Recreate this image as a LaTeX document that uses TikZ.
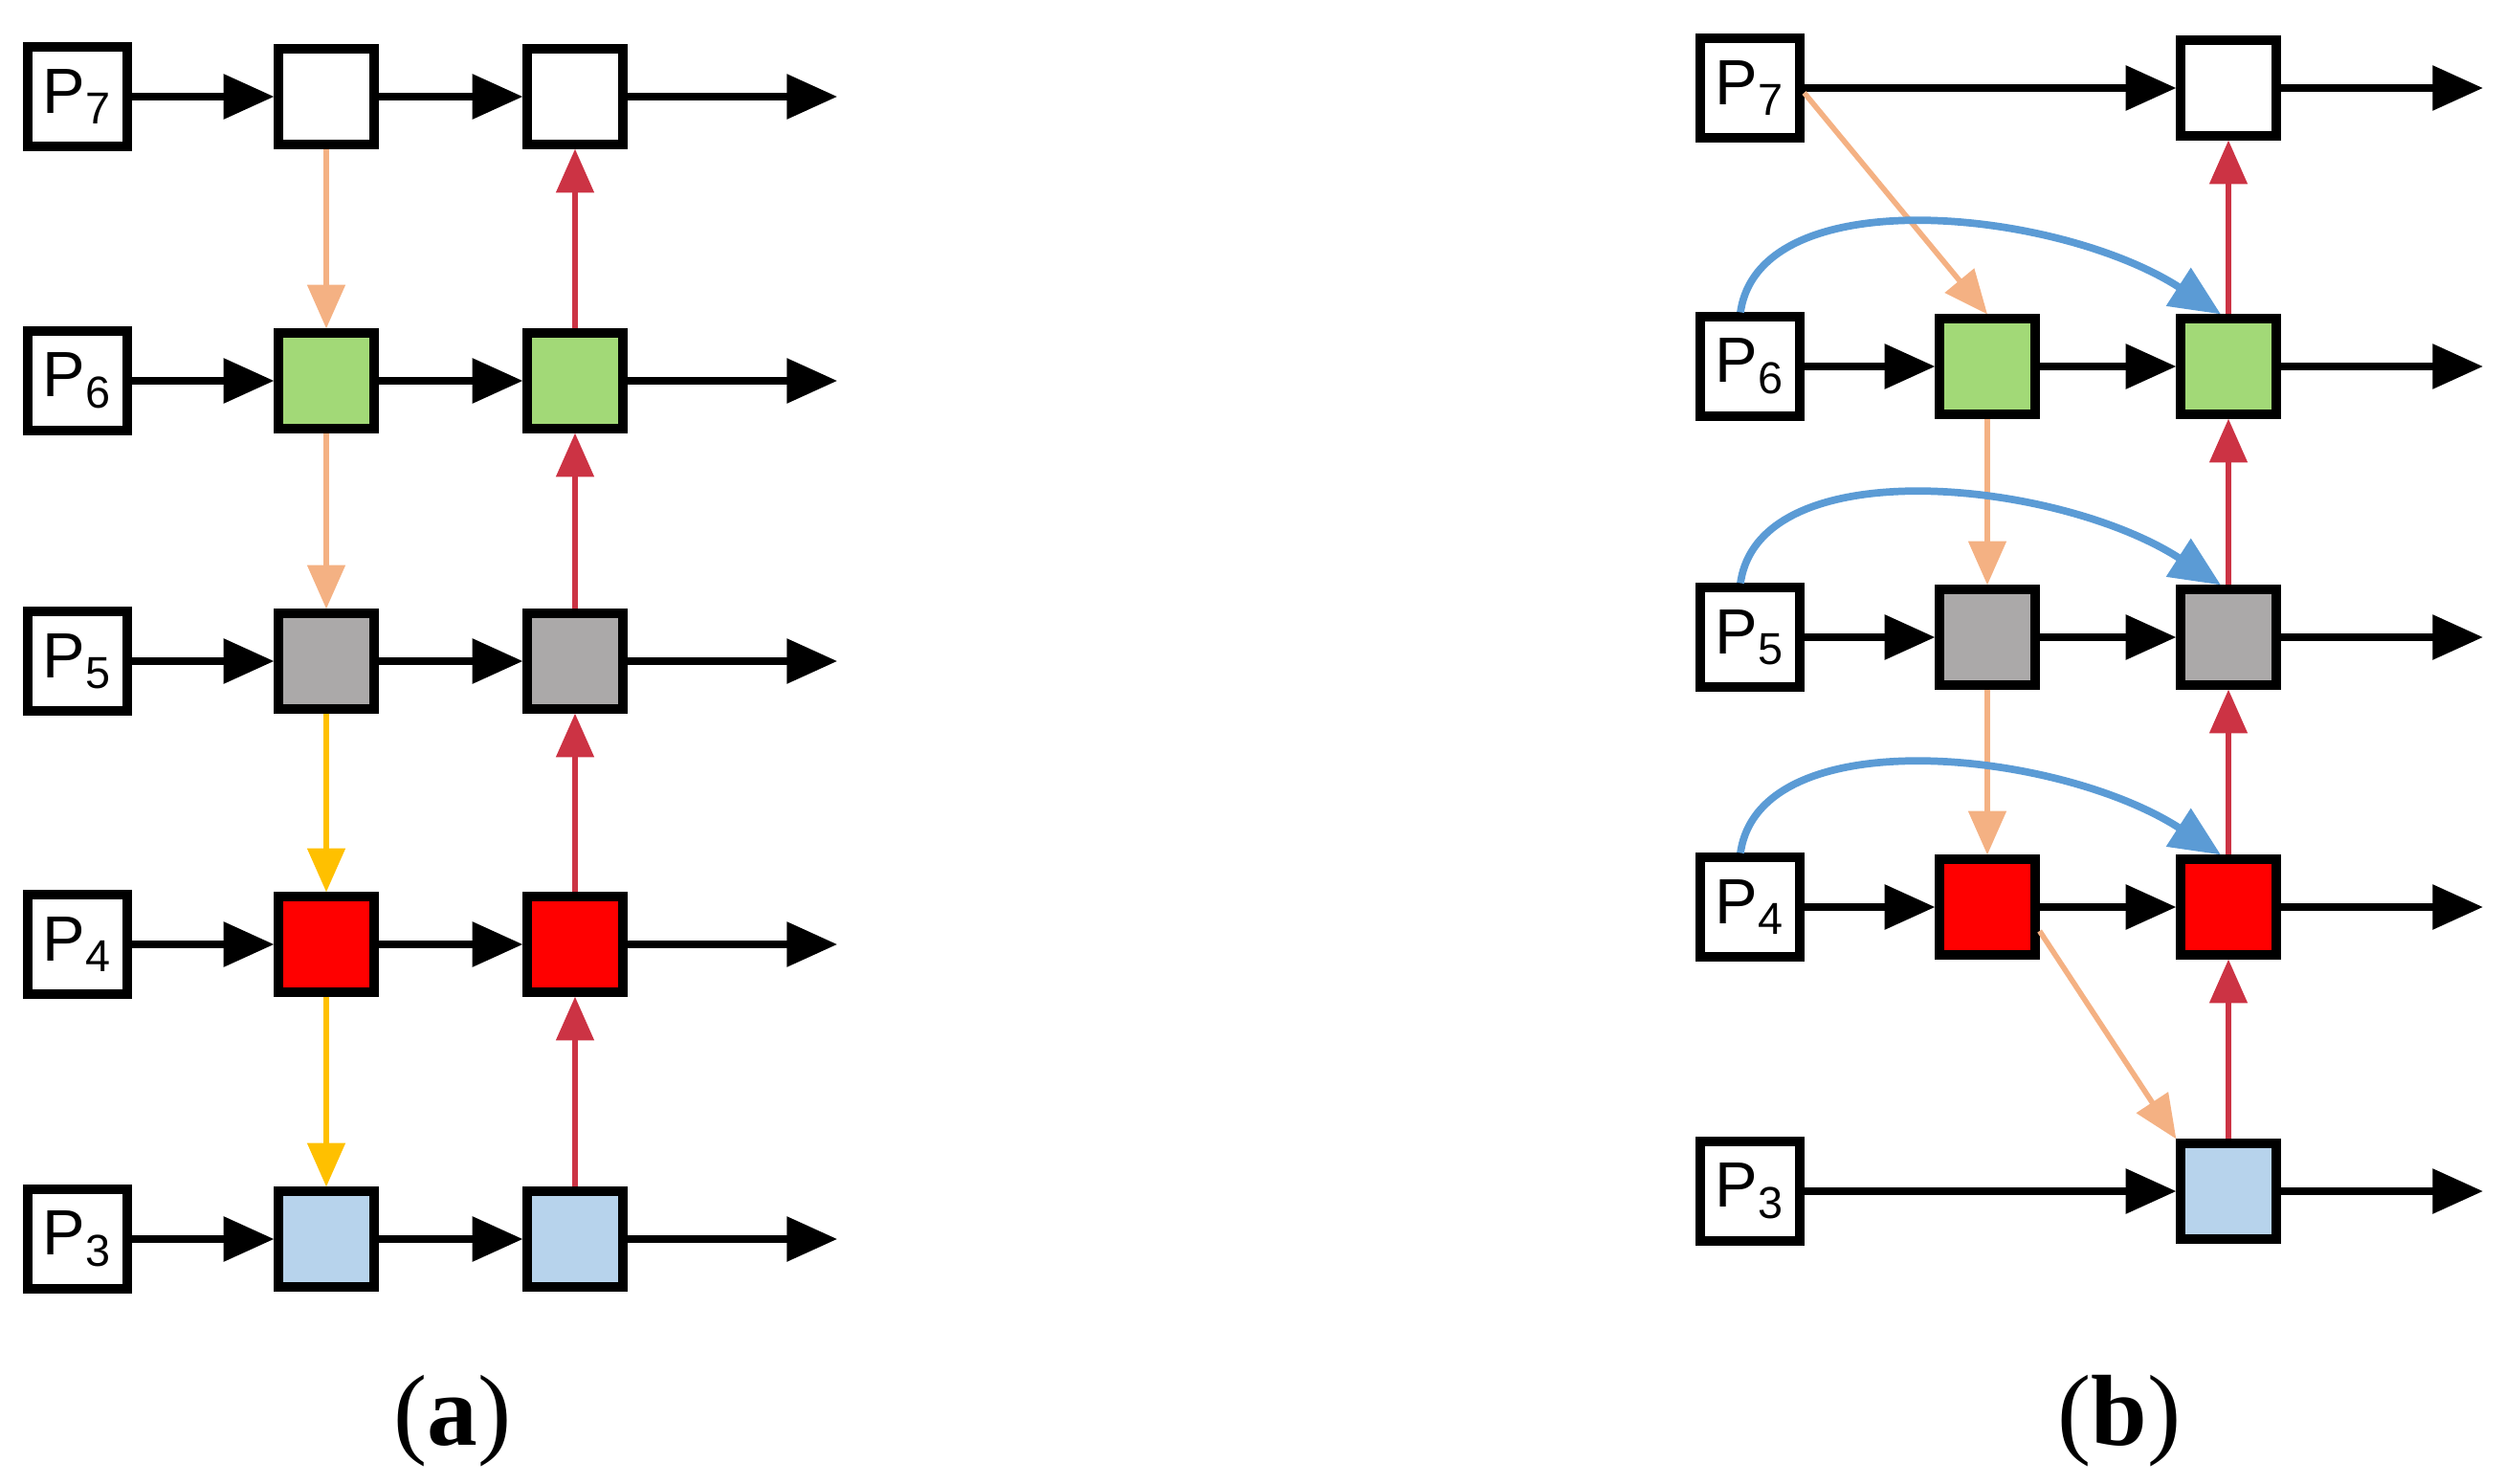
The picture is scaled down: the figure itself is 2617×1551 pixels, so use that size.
\documentclass[tikz,border=0pt]{standalone}
\usepackage{fontspec}
\setmainfont{Liberation Sans}
\newfontfamily\capfont{Liberation Serif}
\usetikzlibrary{arrows.meta}
\definecolor{cgreen}{HTML}{A2D977}
\definecolor{cgray}{HTML}{ABA9A9}
\definecolor{cred}{HTML}{FF0000}
\definecolor{cblue}{HTML}{B7D3EC}
\definecolor{corange}{HTML}{F4B183}
\definecolor{cyellow}{HTML}{FFC000}
\definecolor{carrred}{HTML}{CC3344}
\definecolor{carrblue}{HTML}{5B9BD5}
\begin{document}
\begin{tikzpicture}[x=0.01cm,y=-0.01cm,
  pbox/.style={draw=black,line width=2.6pt,fill=white,minimum width=1.04cm,minimum height=1.04cm,inner sep=0pt,font=\fontsize{19}{21}\selectfont},
  sq/.style={draw=black,line width=2.6pt,minimum width=1.0cm,minimum height=1.0cm,inner sep=0pt},
  blk/.style={line width=2pt,-{Triangle[length=15pt,width=13pt]}},
  org/.style={corange,line width=1.6pt,-{Triangle[length=13pt,width=11pt]}},
  yel/.style={cyellow,line width=1.6pt,-{Triangle[length=13pt,width=11pt]}},
  rar/.style={carrred,line width=1.6pt,-{Triangle[length=13pt,width=11pt]}},
  bar/.style={carrblue,line width=2.2pt,-{Triangle[length=15pt,width=13pt]}}]
\useasboundingbox (0,0) rectangle (2617,1551);
% ---------- panel (a)
\foreach \n/\y/\c in {7/101/white,6/398/cgreen,5/691/cgray,4/987/cred,3/1295/cblue}{
  \node[pbox] (aP\n) at (81,\y) {P\textsubscript{\n}};
  \node[sq,fill=\c] (aA\n) at (341,\y) {};
  \node[sq,fill=\c] (aB\n) at (601,\y) {};
  \coordinate (aE\n) at (875,\y);
  \draw[blk] (aP\n) -- (aA\n);
  \draw[blk] (aA\n) -- (aB\n);
  \draw[blk] (aB\n) -- (aE\n);
}
\draw[org] (aA7) -- (aA6);
\draw[org] (aA6) -- (aA5);
\draw[yel] (aA5) -- (aA4);
\draw[yel] (aA4) -- (aA3);
\draw[rar] (aB3) -- (aB4);
\draw[rar] (aB4) -- (aB5);
\draw[rar] (aB5) -- (aB6);
\draw[rar] (aB6) -- (aB7);
\node[font=\capfont\fontsize{30}{32}\selectfont] (capa) at (473,1485) {(\textbf{a})};
% ---------- panel (b)
\foreach \n/\y in {7/92,6/383,5/666,4/948,3/1245}{
  \node[pbox] (bP\n) at (1829,\y) {P\textsubscript{\n}};
  \coordinate (bE\n) at (2595,\y);
}
\foreach \n/\y/\c in {6/383/cgreen,5/666/cgray,4/948/cred}{
  \node[sq,fill=\c] (bA\n) at (2077,\y) {};
}
\foreach \n/\y/\c in {7/92/white,6/383/cgreen,5/666/cgray,4/948/cred,3/1245/cblue}{
  \node[sq,fill=\c] (bB\n) at (2329,\y) {};
  \draw[blk] (bB\n) -- (bE\n);
}
\draw[blk] (bP7) -- (bB7);
\draw[blk] (bP3) -- (bB3);
\foreach \n in {6,5,4}{
  \draw[blk] (bP\n) -- (bA\n);
  \draw[blk] (bA\n) -- (bB\n);
}
\draw[org] ([yshift=-0.05cm]bP7.east) -- (bA6.north);
\draw[org] (bA6) -- (bA5);
\draw[org] (bA5) -- (bA4);
\draw[org] ([yshift=-0.25cm]bA4.east) -- (bB3.north west);
\draw[rar] (bB3) -- (bB4);
\draw[rar] (bB4) -- (bB5);
\draw[rar] (bB5) -- (bB6);
\draw[rar] (bB6) -- (bB7);
\foreach \n in {6,5,4}{
  \draw[bar] ([xshift=-0.1cm]bP\n.north) .. controls ++(20,-140) and ++(-170,-110) .. ([xshift=-0.08cm]bB\n.north);
}
\node[font=\capfont\fontsize{30}{32}\selectfont] (capb) at (2215,1485) {(\textbf{b})};
\end{tikzpicture}
\end{document}
